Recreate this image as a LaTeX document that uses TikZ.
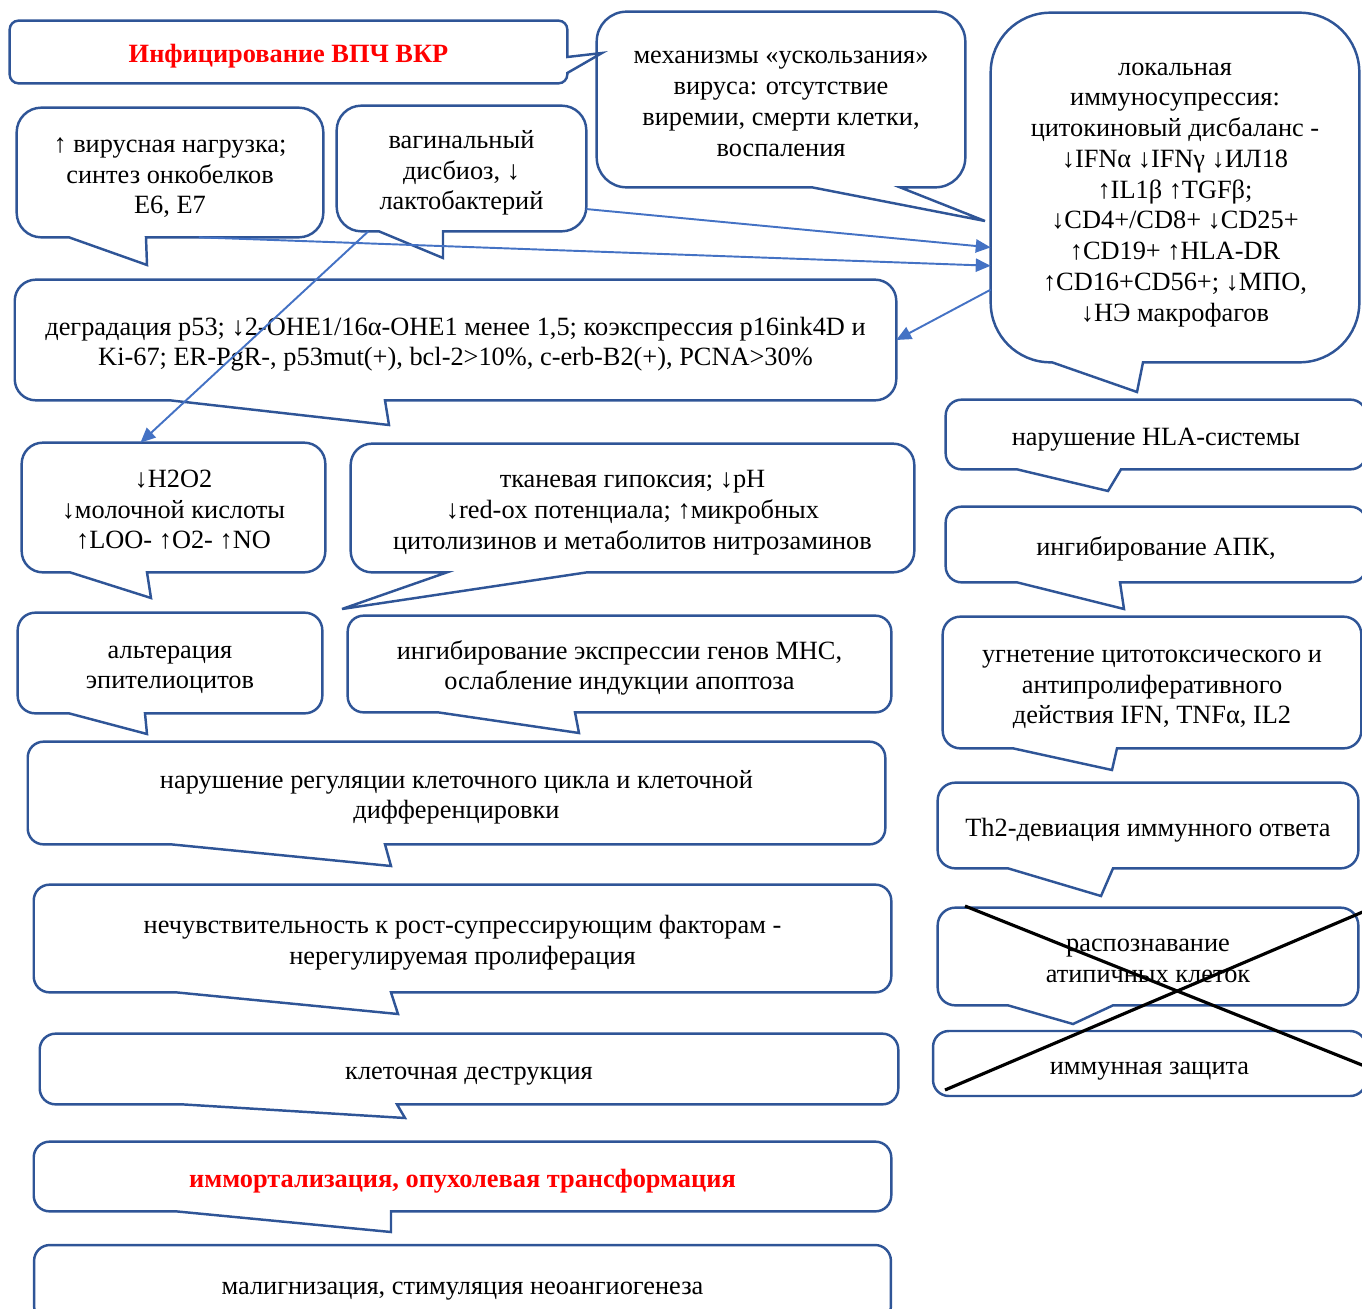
\documentclass[tikz,border=0pt]{standalone}
\usepackage{fontspec}
\setmainfont{Liberation Serif}
\usetikzlibrary{arrows.meta}
\usepackage{xcolor}

\definecolor{boxblue}{HTML}{2F5597}
\definecolor{arrowblue}{HTML}{4472C4}

% first line strut, so the text sits a little lower in its box
\newcommand{\lift}{\rule{0pt}{12pt}}

% speech bubble round a node: [corner radius]{node}{tail start x}{tail end x}{tail tip}
\newcommand{\bubble}[5][9pt]{%
  \draw[outline] (#3,0 |- #2.south) [rounded corners=#1] -- (#2.south west) -- (#2.north west)
    -- (#2.north east) -- (#2.south east) [sharp corners] -- (#4,0 |- #2.south) -- (#5) -- cycle;}

\begin{document}
\begin{tikzpicture}[x=0.02cm, y=-0.02cm, font=\fontsize{15}{17.5}\selectfont]

    \tikzstyle{box} = [inner sep=0pt, align=center, text depth=0pt]
    \tikzstyle{outline} = [draw=boxblue, line width=1.4pt]
    \tikzstyle{plain} = [box, draw=boxblue, line width=1.4pt, rounded corners=9pt]
    \tikzstyle{arrow} = [draw=arrowblue, line width=1.1pt, -{Triangle[length=8.5pt, width=7.5pt]}]
    \tikzstyle{cross} = [draw=black, line width=1.8pt]
    \tikzstyle{alert} = [text=red, font=\fontsize{15}{17.5}\selectfont\bfseries]

    \useasboundingbox (0,0) rectangle (1362,1308);

    % top row
    \node (title) [box, alert, minimum width=11.14cm, minimum height=1.24cm] at (288.5,52) {\lift Инфицирование ВПЧ ВКР};
    \node (escape) [box, minimum width=7.36cm, minimum height=3.5cm] at (781,99.5) {\lift механизмы «ускользания» \\ вируса: отсутствие \\ виремии, смерти клетки, \\ воспаления};
    \node (local) [box, minimum width=7.36cm, minimum height=6.98cm] at (1175,187.5) {\lift локальная \\ иммуносупрессия: \\ цитокиновый дисбаланс - \\ ↓IFNα ↓IFNγ ↓ИЛ18 \\ ↑IL1β ↑TGFβ; \\ ↓CD4+/CD8+ ↓CD25+ \\ ↑CD19+ ↑HLA-DR \\ ↑CD16+CD56+; ↓МПО, \\ ↓НЭ макрофагов};
    \node (load) [box, minimum width=6.12cm, minimum height=2.58cm] at (170,172.5) {\lift ↑ вирусная нагрузка; \\ синтез онкобелков \\ E6, E7};
    \node (dysb) [box, minimum width=4.98cm, minimum height=2.5cm] at (461.5,168.5) {\lift вагинальный \\ дисбиоз, ↓ \\ лактобактерий};

    % left column
    \node (p53) [box, minimum width=17.62cm, minimum height=2.4cm] at (455.5,340) {\lift деградация p53; ↓2-OHE1/16α-OHE1 менее 1,5; коэкспрессия p16ink4D и \\ Ki-67; ER-PgR-, p53mut(+), bcl-2>10\%, c-erb-B2(+), PCNA>30\%};
    \node (h2o2) [box, minimum width=6.06cm, minimum height=2.58cm] at (173.5,507.5) {\lift ↓H2O2 \\ ↓молочной кислоты \\ ↑LOO- ↑O2- ↑NO};
    \node (hypox) [box, minimum width=11.26cm, minimum height=2.56cm] at (632.5,508) {\lift тканевая гипоксия; ↓pH \\ ↓red-ox потенциала; ↑микробных \\ цитолизинов и метаболитов нитрозаминов};
    \node (alter) [box, minimum width=6.08cm, minimum height=2cm] at (170,663) {\lift альтерация \\ эпителиоцитов};
    \node (mhc) [box, minimum width=10.86cm, minimum height=1.92cm] at (619.5,664) {\lift ингибирование экспрессии генов МНС, \\ ослабление индукции апоптоза};
    \node (cycle) [box, minimum width=17.14cm, minimum height=2.04cm] at (456.5,793) {\lift нарушение регуляции клеточного цикла и клеточной \\ дифференцировки};
    \node (insens) [box, minimum width=17.14cm, minimum height=2.14cm] at (462.5,938.5) {\lift нечувствительность к рост-супрессирующим факторам - \\ нерегулируемая пролиферация};
    \node (destr) [box, minimum width=17.16cm, minimum height=1.4cm] at (469,1069) {\lift клеточная деструкция};
    \node (immort) [box, alert, minimum width=17.14cm, minimum height=1.38cm] at (462.5,1176.5) {\lift иммортализация, опухолевая трансформация};
    \node (malig) [plain, minimum width=17.14cm, minimum height=1.54cm] at (462.5,1283.5) {\lift малигнизация, стимуляция неоангиогенеза};

    % right column
    \node (hla) [box, minimum width=8.4cm, minimum height=1.38cm] at (1156,434.5) {\lift нарушение HLA-системы};
    \node (apc) [box, minimum width=8.4cm, minimum height=1.5cm] at (1156,544.5) {\lift ингибирование АПК,};
    \node (cytotox) [box, minimum width=8.36cm, minimum height=2.62cm] at (1152,682.5) {\lift угнетение цитотоксического и \\ антипролиферативного \\ действия IFN, TNFα, IL2};
    \node (th2) [box, minimum width=8.4cm, minimum height=1.7cm] at (1148,825.5) {\lift Th2-девиация иммунного ответа};
    \node (recog) [box, minimum width=8.4cm, minimum height=1.94cm] at (1148,956.5) {\lift распознавание \\ атипичных клеток};
    \node (defence) [plain, minimum width=8.66cm, minimum height=1.3cm] at (1149.5,1063.5) {\lift иммунная защита};

    % outlines with tails
    \draw[outline] (title.east |- 0,73) [rounded corners=5pt] -- (title.south east) -- (title.south west)
        -- (title.north west) -- (title.north east) [sharp corners] -- (title.east |- 0,57) -- (602,53) -- cycle;
    \bubble[17pt]{escape}{812}{900}{985,221}
    \bubble[34pt]{local}{1052}{1143}{1137,392}
    \bubble[14pt]{load}{69}{146}{147,265}
    \bubble[14pt]{dysb}{379}{443}{443,258}
    \bubble[12pt]{p53}{170}{385}{389,425}
    \bubble[12pt]{h2o2}{70}{147}{151,598}
    \bubble[12pt]{hypox}{447}{587}{342,609}
    \bubble[10pt]{alter}{69}{145}{147,734}
    \bubble{mhc}{438}{575}{579,733}
    \bubble{cycle}{171}{385}{391,866}
    \bubble{insens}{176}{391}{398,1014}
    \bubble{destr}{182}{397}{405,1118}
    \bubble{immort}{176}{391}{391,1232}
    \bubble{hla}{1017}{1121}{1108,491}
    \bubble{apc}{1017}{1120}{1124,609}
    \bubble[10pt]{cytotox}{1013}{1117}{1112,770}
    \bubble[10pt]{th2}{1008}{1113}{1101,896}
    \bubble[10pt]{recog}{1008}{1113}{1073,1024}

    \draw [arrow] (dysb.-18) -- (local.198);
    \draw [arrow] (load.-66) -- (local.203);
    \draw [arrow] (dysb.-146) -- (h2o2.117);
    \draw [arrow] (local.209) -- (p53.east);

    % crossed out
    \coordinate (c1) at (965,906);
    \coordinate (c2) at (1372,1069);
    \coordinate (c3) at (945,1090);
    \coordinate (c4) at (1372,908);
    \draw [cross] (c1) -- (c2);
    \draw [cross] (c3) -- (c4);

\end{tikzpicture}
\end{document}
